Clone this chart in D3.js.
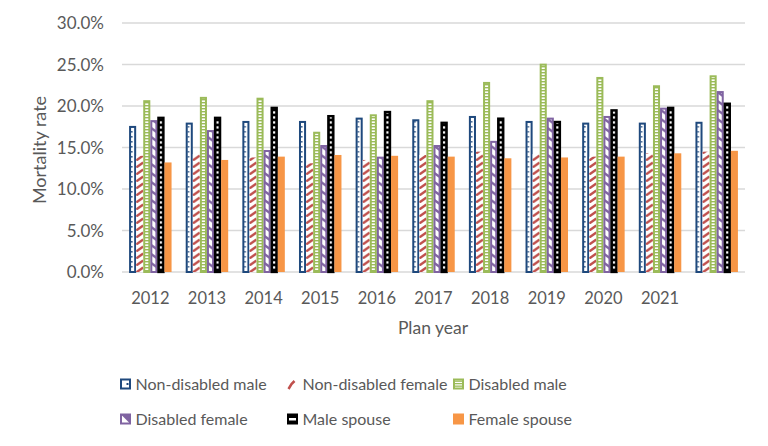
<!DOCTYPE html>
<html><head><meta charset="utf-8">
<script src="https://cdn.jsdelivr.net/npm/d3@7"></script>
<style>body{margin:0;background:#fff}svg{display:block}text{font-family:Lato,"Open Sans",sans-serif;fill:#595959}</style>
</head><body><svg id="c" width="768" height="446"></svg>
<script>
const categories = ["2012","2013","2014","2015","2016","2017","2018","2019","2020","2021",""];
const seriesNames = ["Non-disabled male","Non-disabled female","Disabled male","Disabled female","Male spouse","Female spouse"];
const nonDisabledMale   = [17.6,18.0,18.2,18.2,18.6,18.4,18.8,18.2,18.0,18.0,18.1];
const nonDisabledFemale = [14.0,14.2,13.8,13.1,13.5,14.1,14.5,14.2,13.9,14.3,14.5];
const disabledMale      = [20.7,21.1,21.0,16.9,19.0,20.7,22.9,25.1,23.5,22.5,23.7];
const disabledFemale    = [18.3,17.1,14.7,15.3,13.9,15.3,15.8,18.6,18.8,19.8,21.8];
const maleSpouse        = [18.7,18.7,19.9,18.9,19.4,18.1,18.6,18.2,19.6,19.9,20.4];
const femaleSpouse      = [13.2,13.5,13.9,14.1,14.0,13.9,13.7,13.8,13.9,14.3,14.6];
const yTicks = [0,5,10,15,20,25,30];

const seriesValues = [nonDisabledMale,nonDisabledFemale,disabledMale,disabledFemale,maleSpouse,femaleSpouse];
const svg = d3.select("#c");
const L=122,R=745,T=23,B=272;
const x = d3.scaleBand().domain(categories.map((c,i)=>i)).range([L,R]).padding(0);
const step = x.bandwidth();
const bw = step/8;
const xs = d3.scaleBand().domain(d3.range(6)).range([bw, step-bw]);
const y = d3.scaleLinear().domain([0,30]).range([B,T]);

const defs = svg.append("defs");
function tile(id,h){return defs.append("pattern").attr("id",id).attr("patternUnits","userSpaceOnUse").attr("x",L).attr("y",0).attr("width",step).attr("height",h);}
let p = tile("p0",5);
p.append("rect").attr("width",step).attr("height",5).attr("fill","#fff");
p.append("rect").attr("x",xs(0)+2).attr("y",1).attr("width",1.4).attr("height",1.6).attr("fill","#1F497D");
p = tile("p1",7);
p.append("rect").attr("width",step).attr("height",7).attr("fill","#fff");
p.append("path").attr("d",`M${xs(1)},6.5 L${xs(1)+bw},1.5`).attr("stroke","#C0504D").attr("stroke-width",2.4);
p = tile("p2",3);
p.append("rect").attr("width",step).attr("height",3).attr("fill","#fff");
p.append("rect").attr("width",step).attr("height",1.4).attr("fill","#9BBB59");
p = tile("p3",9);
p.append("rect").attr("width",step).attr("height",9).attr("fill","#fff");
p.append("path").attr("d",`M${xs(3)},1.5 L${xs(3)+bw},6.5`).attr("stroke","#8064A2").attr("stroke-width",2.4);
p = tile("p4",5);
p.append("rect").attr("width",step).attr("height",5).attr("fill","#000");
p.append("rect").attr("x",xs(4)+2.4).attr("y",1.3).attr("width",bw-4.8).attr("height",2.3).attr("fill","#fff");

const fills = ["url(#p0)","url(#p1)","url(#p2)","url(#p3)","url(#p4)","#F79646"];
const strokes = ["#1F497D","none","#9BBB59","#8064A2","#000","none"];

svg.append("g").selectAll("line").data(yTicks).join("line")
  .attr("x1",L).attr("x2",R).attr("y1",d=>y(d)).attr("y2",d=>y(d))
  .attr("stroke","#D9D9D9").attr("stroke-width",1.5);

seriesValues.forEach((vals,s)=>{
  const o = strokes[s]==="none"?0:1;
  svg.append("g").selectAll("rect").data(vals).join("rect")
    .attr("x",(d,i)=>x(i)+xs(s)+o)
    .attr("width",bw-2*o)
    .attr("y",d=>y(d)+o)
    .attr("height",d=>B-y(d)-o)
    .attr("fill",fills[s]).attr("stroke",strokes[s]).attr("stroke-width",s===4?2.3:2);
});

svg.append("g").selectAll("text").data(yTicks).join("text")
  .attr("x",104).attr("y",d=>y(d)).attr("dy","0.36em").attr("text-anchor","end")
  .attr("font-size",17).text(d=>d.toFixed(1)+"%");
svg.append("g").selectAll("text").data(categories).join("text")
  .attr("x",(d,i)=>x(i)+step/2).attr("y",304).attr("text-anchor","middle")
  .attr("font-size",16.5).text(d=>d);
svg.append("text").attr("x",433).attr("y",334).attr("text-anchor","middle").attr("font-size",17.5).text("Plan year");
svg.append("text").attr("transform","translate(46,150) rotate(-90)").attr("text-anchor","middle").attr("font-size",18).text("Mortality rate");

const legendPos = [[125.5,384],[292.5,384],[458.5,384],[125.5,419],[292.5,419],[458.5,419]];
const lg = svg.append("g");
seriesNames.forEach((n,s)=>{
  const [lx,ly] = legendPos[s];
  const g = lg.append("g").attr("transform",`translate(${lx},${ly})`);
  if(s===0){
    g.append("rect").attr("x",-4.5).attr("y",-4.5).attr("width",9).attr("height",9).attr("fill","#fff").attr("stroke","#1F497D").attr("stroke-width",2);
    g.append("rect").attr("x",1).attr("y",-1).attr("width",2).attr("height",2).attr("fill","#1F497D");
  } else if(s===1){
    g.append("path").attr("d","M-4,5 L-1,0 L2,-3").attr("stroke","#C0504D").attr("stroke-width",2.5).attr("fill","none");
  } else if(s===2){
    g.append("rect").attr("x",-4.5).attr("y",-4.5).attr("width",9).attr("height",9).attr("fill","#fff").attr("stroke","#9BBB59").attr("stroke-width",2);
    [-2,0.5,3].forEach(yy=>g.append("rect").attr("x",-4.5).attr("y",yy-1.5).attr("width",9).attr("height",1.3).attr("fill","#9BBB59"));
  } else if(s===3){
    g.append("rect").attr("x",-4.5).attr("y",-4.5).attr("width",9).attr("height",9).attr("fill","#fff").attr("stroke","#8064A2").attr("stroke-width",2);
    g.append("path").attr("d","M-4,-4 L4,-4 L4,4 Z").attr("fill","#8064A2");
  } else if(s===4){
    g.append("rect").attr("x",-5.5).attr("y",-5.5).attr("width",11).attr("height",11).attr("fill","#000");
    g.append("rect").attr("x",-3.5).attr("y",-1).attr("width",7).attr("height",2.5).attr("fill","#fff");
  } else {
    g.append("rect").attr("x",-5.5).attr("y",-5.5).attr("width",11).attr("height",11).attr("fill","#F79646");
  }
  g.append("text").attr("x",10).attr("y",0).attr("dy","0.36em").attr("font-size",16).text(n);
});
</script></body></html>
